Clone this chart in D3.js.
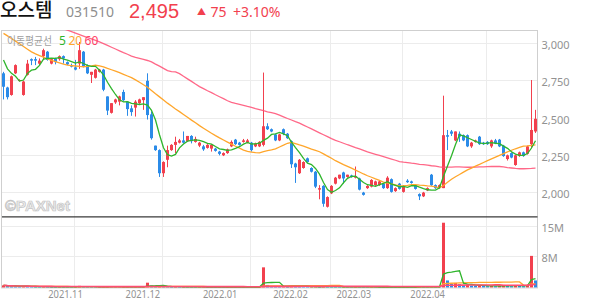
<!DOCTYPE html>
<html><head><meta charset="utf-8">
<script src="https://cdn.jsdelivr.net/npm/d3@7"></script>
<style>
html,body{margin:0;padding:0;background:#fff;}
svg{display:block;font-family:"Noto Sans CJK KR","Noto Sans",sans-serif;}
</style></head><body>
<svg id="c" width="594" height="304"></svg>
<script>
// ---- data ----
const stockName = "오스템", stockCode = "031510";
const lastPrice = 2495, change = 75, changePct = "+3.10%";
const firstDay = "2021-10-05", lastDay = "2022-04-19";
const holidays = ["2021-10-11","2021-12-31","2022-01-31","2022-02-01","2022-02-02","2022-03-01","2022-03-09"];
const opens = [2800,2705,2655,2800,2750,2655,2790,2895,2895,2865,
2915,2945,2865,2900,2895,2915,2875,2855,2840,2865,
2945,2855,2790,2770,2810,2825,2645,2535,2605,2610,
2675,2610,2565,2570,2600,2620,2750,2525,2315,2285,
2130,2220,2285,2320,2335,2350,2345,2380,2340,2315,
2310,2300,2295,2295,2275,2250,2265,2310,2355,2335,
2340,2335,2335,2310,2310,2320,2445,2425,2390,2350,
2425,2395,2345,2195,2130,2165,2230,2165,2140,2020,
2045,1905,1995,2060,2095,2135,2105,2115,2100,2095,
2000,2030,2040,2050,2050,2060,2030,2090,2010,2060,
2005,2080,2075,2050,1990,1975,2015,2120,2050,2030,
2030,2385,2410,2350,2395,2385,2385,2310,2340,2375,
2335,2340,2310,2350,2355,2315,2225,2265,2185,2245,
2270,2260,2325,2410];
const highs = [2810,2710,2785,2860,2760,2750,2890,2900,2910,2900,
2965,2950,2895,2905,2920,2920,2880,2865,2890,3010,
2950,2860,2810,2830,2830,2830,2645,2600,2630,2650,
2690,2610,2585,2620,2630,2640,2800,2545,2315,2290,
2210,2315,2325,2375,2360,2410,2380,2385,2375,2340,
2320,2325,2325,2300,2280,2270,2295,2350,2360,2340,
2360,2360,2340,2335,2345,2805,2465,2430,2395,2395,
2430,2400,2350,2200,2225,2210,2235,2170,2145,2050,
2050,1975,2050,2105,2120,2140,2120,2120,2175,2100,
2005,2050,2090,2080,2080,2065,2110,2095,2035,2065,
2050,2090,2080,2055,1995,2005,2035,2125,2055,2055,
2650,2420,2420,2410,2410,2390,2390,2340,2355,2380,
2340,2345,2355,2360,2360,2320,2255,2270,2255,2275,
2275,2315,2755,2555];
const lows = [2625,2625,2650,2795,2745,2650,2785,2855,2855,2855,
2890,2885,2860,2860,2885,2865,2855,2840,2820,2830,
2840,2795,2735,2765,2805,2680,2520,2530,2595,2585,
2615,2515,2515,2510,2595,2555,2490,2355,2280,2105,
2105,2170,2280,2265,2330,2330,2340,2330,2335,2305,
2280,2295,2275,2275,2250,2245,2260,2305,2320,2315,
2335,2330,2275,2305,2305,2310,2420,2405,2345,2345,
2385,2360,2165,2065,2125,2160,2200,2135,2030,1955,
1905,1900,1990,2055,2090,2060,2100,2100,2095,2015,
1980,2025,2035,2045,2045,2025,2025,2000,2005,2020,
2000,2065,2060,2020,1950,1970,2010,2045,2025,2025,
2030,2285,2380,2345,2340,2345,2305,2300,2335,2320,
2320,2320,2300,2325,2305,2240,2215,2230,2180,2240,
2240,2255,2300,2400];
const closes = [2710,2640,2780,2855,2755,2745,2865,2885,2885,2885,
2955,2890,2895,2875,2915,2900,2860,2845,2825,2955,
2845,2800,2810,2825,2825,2690,2550,2600,2625,2645,
2620,2560,2540,2610,2625,2640,2520,2365,2285,2130,
2205,2285,2320,2340,2350,2335,2380,2345,2360,2335,
2290,2320,2320,2280,2260,2265,2290,2340,2325,2320,
2350,2350,2285,2330,2340,2445,2425,2410,2350,2390,
2395,2365,2190,2170,2220,2205,2205,2140,2040,2030,
1925,1970,2045,2100,2120,2095,2120,2105,2110,2020,
1985,2045,2085,2075,2075,2030,2100,2005,2030,2025,
2045,2070,2065,2025,1975,2000,2030,2050,2030,2050,
2385,2375,2395,2410,2375,2350,2310,2335,2350,2325,
2325,2325,2350,2330,2310,2245,2250,2235,2250,2270,
2245,2310,2420,2495];
const volumes = [500e3,350e3,300e3,280e3,250e3,300e3,260e3,150e3,130e3,120e3,
250e3,180e3,120e3,110e3,130e3,120e3,100e3,90e3,150e3,380e3,
200e3,150e3,140e3,120e3,100e3,180e3,250e3,180e3,120e3,110e3,
130e3,160e3,120e3,140e3,100e3,120e3,1150e3,450e3,200e3,300e3,
250e3,200e3,150e3,160e3,100e3,150e3,120e3,110e3,90e3,100e3,
110e3,90e3,100e3,90e3,100e3,80e3,90e3,130e3,110e3,80e3,
90e3,80e3,120e3,100e3,110e3,4900e3,600e3,300e3,250e3,200e3,
220e3,150e3,400e3,300e3,250e3,150e3,120e3,130e3,200e3,180e3,
250e3,200e3,160e3,150e3,110e3,120e3,90e3,80e3,150e3,130e3,
110e3,100e3,120e3,90e3,80e3,90e3,130e3,110e3,80e3,90e3,
100e3,110e3,80e3,90e3,150e3,110e3,90e3,200e3,120e3,100e3,
15800e3,1700e3,900e3,1100e3,800e3,600e3,700e3,450e3,400e3,500e3,
350e3,300e3,400e3,300e3,350e3,600e3,400e3,300e3,500e3,350e3,
300e3,600e3,7700e3,1700e3];
const ma5Lead = [2890,2830,2800,2780];
const ma20 = [3068,3051,3034,3016,2998,2980,2962,2944,2930,2919,
2908,2896,2886,2878,2870,2862,2855,2852,2849,2846,
2844,2847,2850,2854,2850,2843,2833,2824,2814,2804,
2793,2782,2771,2756,2740,2723,2707,2685,2663,2642,
2621,2600,2581,2561,2543,2524,2505,2486,2468,2449,
2432,2415,2398,2382,2367,2353,2339,2325,2311,2298,
2285,2276,2272,2268,2267,2275,2281,2286,2293,2306,
2318,2331,2337,2329,2320,2312,2302,2292,2283,2274,
2260,2245,2230,2214,2201,2188,2176,2164,2151,2138,
2125,2113,2103,2092,2082,2071,2064,2058,2051,2045,
2046,2049,2053,2053,2050,2048,2045,2043,2038,2032,
2048,2070,2090,2106,2121,2137,2152,2164,2177,2189,
2202,2214,2226,2238,2250,2262,2273,2284,2294,2303,
2312,2314,2317,2320];
const ma60 = [3247,3237,3227,3217,3208,3198,3188,3178,3168,3158,
3148,3138,3129,3119,3109,3099,3089,3080,3070,3060,
3050,3040,3031,3021,3011,2999,2987,2975,2963,2951,
2939,2928,2916,2907,2900,2893,2886,2877,2862,2848,
2833,2818,2812,2809,2798,2780,2763,2746,2728,2711,
2697,2683,2670,2656,2643,2630,2616,2605,2598,2592,
2585,2578,2572,2564,2557,2549,2542,2536,2530,2519,
2508,2497,2487,2476,2466,2453,2440,2427,2414,2401,
2388,2375,2362,2350,2341,2331,2321,2312,2302,2293,
2283,2273,2265,2257,2249,2241,2233,2225,2217,2208,
2204,2201,2197,2194,2190,2187,2184,2180,2177,2173,
2170,2171,2171,2172,2172,2171,2170,2170,2171,2172,
2173,2174,2175,2176,2175,2172,2168,2165,2162,2160,
2160,2161,2162,2164];
const priceTicks = [2000,2250,2500,2750,3000];
const volTicks = [7.5e6,15e6];
const maLegend = [{t:"5",c:"#2fb52c"},{t:"20",c:"#ffa62b"},{t:"60",c:"#ff3f66"}];

// ---- derived ----
const dates = [];
for (let d = new Date(firstDay+"T00:00:00Z"); d <= new Date(lastDay+"T00:00:00Z"); d.setUTCDate(d.getUTCDate()+1)) {
  const wd = d.getUTCDay(), s = d.toISOString().slice(0,10);
  if (wd>0 && wd<6 && !holidays.includes(s)) dates.push(s);
}
const N = closes.length;
const idx = d3.range(N);
const ma5 = idx.map(i => i<4 ? ma5Lead[i] : d3.mean(closes.slice(i-4,i+1)));
const vma = n => idx.map(i => d3.mean(volumes.slice(Math.max(0,i-n+1), i+1)));
const vma5 = vma(5), vma20 = vma(20), vma60 = vma(60);
const monthStarts = idx.filter(i => i>0 && dates[i].slice(5,7)!==dates[i-1].slice(5,7));

// ---- layout ----
const RED="#f2404e", BLUE="#2b8be8";
const plotL=2, plotR=537.5, plotT=30, sep=216.8, plotB=287.4;
const svg = d3.select("#c");
const x = d3.scaleLinear().domain([0,N-1]).range([3.5,535.5]);
const y = d3.scaleLinear().domain([2000,3000]).range([192.6,43.5]);
const yv = d3.scaleLinear().domain([0,15e6]).range([plotB,226]);
const xl = d3.scaleLinear().domain([0,plotR]).range([0,plotR*0.879]);
const left = i => Math.round(x(i)-1.5);

const defs = svg.append("defs");
defs.append("clipPath").attr("id","cp").append("rect").attr("x",plotL).attr("y",plotT).attr("width",plotR-plotL).attr("height",sep-plotT);
defs.append("clipPath").attr("id","cv").append("rect").attr("x",plotL).attr("y",sep).attr("width",plotR-plotL).attr("height",plotB-sep+1);

// grid
const grid = svg.append("g").attr("stroke","#ececec").attr("shape-rendering","crispEdges");
priceTicks.forEach(v => grid.append("line").attr("x1",plotL).attr("x2",plotR).attr("y1",y(v)).attr("y2",y(v)));
volTicks.forEach(v => grid.append("line").attr("x1",plotL).attr("x2",plotR).attr("y1",yv(v)).attr("y2",yv(v)));
monthStarts.forEach(i => grid.append("line").attr("x1",left(i)+0.5).attr("x2",left(i)+0.5).attr("y1",plotT).attr("y2",plotB));

// frame
svg.append("rect").attr("x",plotL-0.5).attr("y",plotT+0.5).attr("width",plotR-plotL+0.5).attr("height",plotB-plotT)
  .attr("fill","none").attr("stroke","#cfcfcf");
svg.append("line").attr("x1",plotL).attr("x2",plotR).attr("y1",sep).attr("y2",sep).attr("stroke","#3a3a3a").attr("stroke-width",1.2);

// watermark
svg.append("text").attr("x",5).attr("y",211).text("©PAXNet")
  .attr("font-family","Liberation Sans, Arial, sans-serif").attr("font-weight","bold").attr("font-size",15)
  .attr("fill","#ececec").attr("stroke","#c4c4c4").attr("stroke-width",0.7);

// candles
const pg = svg.append("g").attr("clip-path","url(#cp)");
const col = i => closes[i] >= opens[i] ? RED : BLUE;
pg.selectAll("line.w").data(idx).join("line").attr("class","w")
  .attr("x1",i=>left(i)+1.5).attr("x2",i=>left(i)+1.5)
  .attr("y1",i=>y(highs[i])).attr("y2",i=>y(lows[i])).attr("stroke",col).attr("stroke-width",1);
pg.selectAll("rect.b").data(idx).join("rect").attr("class","b")
  .attr("x",i=>left(i)).attr("width",3)
  .attr("y",i=>y(Math.max(opens[i],closes[i])))
  .attr("height",i=>Math.max(1,Math.abs(y(opens[i])-y(closes[i])))).attr("fill",col);

const line = arr => d3.line().x(i=>x(i)).y(i=>y(arr[i]))(idx);
pg.append("path").attr("d",line(ma60)).attr("fill","none").attr("stroke","#ff4d73").attr("stroke-opacity",0.85).attr("stroke-width",1.3);
pg.append("path").attr("d",line(ma20)).attr("fill","none").attr("stroke","#ffa62b").attr("stroke-width",1.3);
pg.append("path").attr("d",line(ma5)).attr("fill","none").attr("stroke","#2fb52c").attr("stroke-width",1.3);

// volume
const vg = svg.append("g").attr("clip-path","url(#cv)");
vg.selectAll("rect").data(idx).join("rect")
  .attr("x",i=>left(i)).attr("width",3).attr("y",i=>yv(volumes[i]))
  .attr("height",i=>plotB-yv(volumes[i]))
  .attr("fill",i=> (i===0 || volumes[i]>=volumes[i-1]) ? RED : BLUE);
const vline = arr => d3.line().x(i=>x(i)).y(i=>yv(arr[i]))(idx);
vg.append("path").attr("d",vline(vma20)).attr("fill","none").attr("stroke","#ffa62b").attr("stroke-width",1.3);
vg.append("path").attr("d",vline(vma5)).attr("fill","none").attr("stroke","#2fb52c").attr("stroke-width",1.3);
vg.append("path").attr("d",vline(vma60)).attr("fill","none").attr("stroke","#ff4d73").attr("stroke-width",1.6);

// right axes
const axStyle = g => { g.select(".domain").remove(); g.selectAll("text").attr("fill","#929292").attr("font-size",11).attr("font-family","Noto Sans, sans-serif"); };
svg.append("g").attr("transform",`translate(${plotR},1.5)`)
  .call(d3.axisRight(y).tickValues(priceTicks).tickFormat(d3.format(",")).tickSize(0).tickPadding(4)).call(axStyle);
svg.append("g").attr("transform",`translate(${plotR},1.5)`)
  .call(d3.axisRight(yv).tickValues(volTicks).tickFormat(d=>Math.round(d/1e6)+"M").tickSize(0).tickPadding(4)).call(axStyle);

// x labels
svg.append("g").selectAll("text").data(monthStarts).join("text")
  .attr("x",i=>xl(left(i)+0.5)).attr("y",298).attr("text-anchor","middle")
  .attr("font-size",11).attr("fill","#929292").attr("font-family","Noto Sans, sans-serif")
  .attr("transform",i=>`translate(${xl(left(i)+0.5)},0) scale(0.85,1) translate(${-xl(left(i)+0.5)},0)`)
  .text(i=>dates[i].slice(0,4)+"."+dates[i].slice(5,7));

// legend
svg.append("text").attr("x",7).attr("y",44.5).attr("font-size",11).attr("fill","#a0a0a0")
  .attr("textLength",45).attr("lengthAdjust","spacingAndGlyphs").text("이동평균선");
let lx = 59;
maLegend.forEach(m => {
  const t = svg.append("text").attr("x",lx).attr("y",44.5).attr("font-size",12).attr("fill",m.c).attr("font-family","Noto Sans, sans-serif").text(m.t);
  lx += t.node().getComputedTextLength() + 2.5;
});

// header
svg.append("text").attr("x",0).attr("y",17).attr("font-size",19).attr("font-weight",500).attr("fill","#111").text(stockName);
svg.append("text").attr("x",66).attr("y",17).attr("font-size",14).attr("fill","#8e8e8e").attr("font-family","Noto Sans, sans-serif").text(stockCode);
svg.append("text").attr("x",129).attr("y",17.5).attr("font-size",20).attr("fill",RED).attr("font-family","Liberation Sans, Arial, sans-serif").text(d3.format(",")(lastPrice));
svg.append("text").attr("x",197).attr("y",14.5).attr("font-size",9).attr("fill",RED).text("▲");
svg.append("text").attr("x",210.5).attr("y",17).attr("font-size",14).attr("fill",RED).attr("font-family","Noto Sans, sans-serif").text(change);
svg.append("text").attr("x",233).attr("y",17).attr("font-size",14).attr("fill",RED).attr("font-family","Noto Sans, sans-serif").text(changePct);
</script>
</body></html>
